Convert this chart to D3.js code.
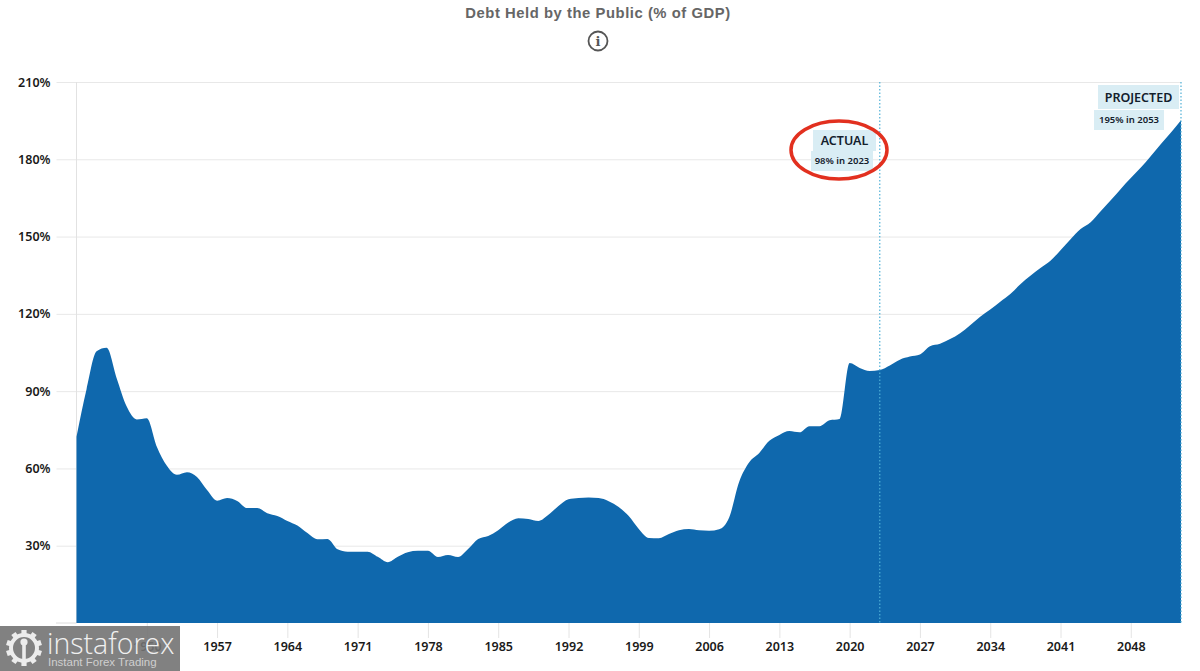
<!DOCTYPE html>
<html>
<head>
<meta charset="utf-8">
<script src="https://cdn.jsdelivr.net/npm/d3@7"></script>
<style>
  html, body { margin: 0; padding: 0; background: #fff; overflow: hidden; }
  .tick text { font-family: "Noto Sans", sans-serif; font-weight: 600; font-size: 12.5px; fill: #1a1a1a; }
</style>
</head>
<body>
<div id="chart"></div>
<script>
const years = [];
for (let yr = 1943; yr <= 2053; yr++) years.push(yr);

// one value per year
const debt = [
  72.3, 90.7, 105.5, 106.8, 95, 84, 79, 79.5, 68.4, 61,
  57.5, 58.5, 56.7, 51.6, 47.5, 48.5, 47.4, 44.6, 44.6, 42.6,
  41.5, 39.6, 37.8, 34.9, 32.5, 32.6, 28.6, 27.7, 27.7, 27.7,
  25.7, 23.6, 25.7, 27.5, 28, 28, 25.6, 26.4, 25.6, 28.7,
  32.6, 33.8, 36, 39, 40.7, 40.4, 39.6, 42, 45.4, 48,
  48.5, 48.7, 48.5, 47.3, 45, 41.5, 36.5, 33, 32.9, 34.5,
  36, 36.5, 36, 35.8, 36.4, 41, 54.8, 62.4, 66, 70.7,
  73, 74.5, 74, 76.4, 76.4, 78.7, 79.2, 100.9, 99, 97.8,
  98.2, 100, 102.2, 103.4, 104.2, 107.4, 108.4, 110.2, 112.5, 115.6,
  118.9, 121.7, 124.7, 127.7, 131.5, 134.8, 137.8, 140.6, 144.7, 149,
  152.9, 155.6, 159.8, 164.1, 168.5, 172.7, 176.8, 181.3, 185.9, 190.4,
  195.2
];

const xTicks = [1950, 1957, 1964, 1971, 1978, 1985, 1992, 1999, 2006, 2013, 2020, 2027, 2034, 2041, 2048];
const yTicks = [30, 60, 90, 120, 150, 180, 210];
const title = "Debt Held by the Public (% of GDP)";

const width = 1200, height = 671;
const margins = {top: 82, bottom: 48, left: 76.5, right: 19};

const svg = d3.select('#chart').append('svg').attr('width', width).attr('height', height);

const x = d3.scaleLinear().domain([1943, 2053]).range([margins.left, width - margins.right]);
const y = d3.scaleLinear().domain([0, 210]).range([height - margins.bottom, margins.top]);

// horizontal grid + percent labels
const yAxis = svg.append('g')
    .attr('transform', `translate(${margins.left}, 0)`)
    .call(d3.axisLeft(y).tickValues(yTicks).tickSize(20).tickFormat(d => d + '%'));
yAxis.select('.domain').remove();
yAxis.selectAll('.tick line').attr('x2', x(2053) - margins.left).attr('x1', -20).attr('stroke', '#e8e8e8');
yAxis.selectAll('.tick text').attr('x', -26);

svg.append('line')
    .attr('x1', x(1943)).attr('x2', x(1943))
    .attr('y1', y(210)).attr('y2', y(0))
    .attr('stroke', '#e2e2e2');

const xAxis = svg.append('g')
    .attr('transform', `translate(0, ${y(0)})`)
    .call(d3.axisBottom(x).tickValues(xTicks).tickSize(15).tickFormat(d3.format('d')));
xAxis.select('.domain').remove();
xAxis.selectAll('.tick line').attr('stroke', '#e4e4e4');
xAxis.selectAll('.tick text').attr('y', 19);

svg.append('line')
    .attr('x1', 56).attr('x2', x(1943))
    .attr('y1', y(0)).attr('y2', y(0))
    .attr('stroke', '#dcdcdc');

const area = d3.area()
    .x((d, i) => x(years[i]))
    .y0(y(0))
    .y1(d => y(d))
    .curve(d3.curveMonotoneX);

svg.append('path')
    .datum(debt)
    .attr('fill', '#0f68ad')
    .attr('d', area);

// actual / projected dotted markers
[2023, 2053].forEach(yr => {
    svg.append('line')
        .attr('x1', x(yr)).attr('x2', x(yr))
        .attr('y1', y(210)).attr('y2', y(0))
        .attr('stroke', '#4fb0d6')
        .attr('stroke-width', 1.2)
        .attr('stroke-dasharray', '1.5 2');
});

function addLabel(text, left, top, w, h, size) {
    svg.append('rect')
        .attr('x', left).attr('y', top)
        .attr('width', w).attr('height', h)
        .attr('fill', '#d9edf4');
    svg.append('text')
        .attr('x', left + w / 2)
        .attr('y', top + h / 2)
        .attr('dy', '0.36em')
        .attr('text-anchor', 'middle')
        .style('font-family', '"Noto Sans", sans-serif')
        .style('font-weight', 600)
        .style('font-size', size + 'px')
        .style('fill', '#13202c')
        .text(text);
}

addLabel('ACTUAL', 813, 130, 63, 21, 12.5);
addLabel('98% in 2023', 811, 151, 62, 20, 9.5);
addLabel('PROJECTED', 1098, 85, 81, 24, 12.5);
addLabel('195% in 2053', 1094, 110, 70, 20, 9.5);

svg.append('ellipse')
    .attr('cx', 839).attr('cy', 150)
    .attr('rx', 48).attr('ry', 29)
    .attr('fill', 'none')
    .attr('stroke', '#e2301f')
    .attr('stroke-width', 3.5);

// title and info icon
svg.append('text')
    .attr('x', 598).attr('y', 18)
    .attr('text-anchor', 'middle')
    .style('font-family', '"Liberation Sans", sans-serif')
    .style('font-weight', 700)
    .style('font-size', '14.8px')
    .style('letter-spacing', '0.55px')
    .style('fill', '#666')
    .text(title);

svg.append('circle')
    .attr('cx', 598).attr('cy', 41).attr('r', 9.5)
    .attr('fill', 'none').attr('stroke', '#555').attr('stroke-width', 1.8);
svg.append('text')
    .attr('x', 598).attr('y', 46)
    .attr('text-anchor', 'middle')
    .style('font-family', '"DejaVu Serif", serif')
    .style('font-weight', 700)
    .style('font-size', '13px')
    .style('fill', '#555')
    .text('i');

// watermark, the 1950 label shows through it a little
const mark = svg.append('g');
mark.append('rect')
    .attr('x', 0).attr('y', 626)
    .attr('width', 180).attr('height', 45)
    .attr('fill', '#737373').attr('fill-opacity', 0.9);

const gear = mark.append('g').attr('transform', 'translate(24, 648)');
d3.range(10).forEach(i => {
    gear.append('rect')
        .attr('x', -2.6).attr('y', -18)
        .attr('width', 5.2).attr('height', 6)
        .attr('fill', '#ececec')
        .attr('transform', `rotate(${i * 36})`);
});
gear.append('circle').attr('r', 13).attr('fill', 'none').attr('stroke', '#ececec').attr('stroke-width', 4);
gear.append('circle').attr('cy', -6).attr('r', 3.6).attr('fill', '#ececec');
gear.append('rect').attr('x', -1.8).attr('y', -3).attr('width', 3.6).attr('height', 17).attr('fill', '#ececec');

mark.append('text')
    .attr('x', 47).attr('y', 654)
    .style('font-family', '"Open Sans", sans-serif')
    .style('font-weight', 300)
    .style('font-size', '28.5px')
    .style('fill', '#f0f0f0')
    .text('instaforex');
mark.append('text')
    .attr('x', 48).attr('y', 666)
    .style('font-family', '"Liberation Sans", sans-serif')
    .style('font-size', '11.5px')
    .style('fill', '#cfcfcf')
    .text('Instant Forex Trading');
</script>
</body>
</html>
